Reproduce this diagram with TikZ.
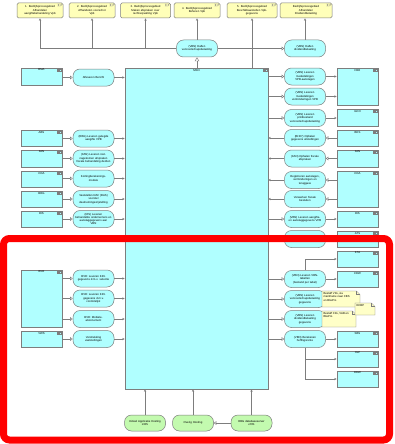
\documentclass[tikz,border=0pt]{standalone}
\usepackage{fontspec}
\setmainfont{Liberation Sans}
\usetikzlibrary{arrows.meta,positioning}
\definecolor{cy}{RGB}{176,255,255}
\definecolor{yl}{RGB}{255,255,185}
\definecolor{gr}{RGB}{195,250,175}
\definecolor{ln}{RGB}{125,125,125}
\definecolor{nt}{RGB}{255,255,200}
\tikzset{
  base/.style={draw=ln, line width=0.5pt, inner sep=0.5pt, font=\fontsize{2.8}{3.3}\selectfont, align=center},
  proc/.style={base, fill=yl, rounded corners=1.5pt, minimum height=15pt, text width=40pt},
  svc/.style={base, fill=cy, rounded corners=7pt, minimum width=41pt, minimum height=17pt, text width=37pt},
  infra/.style={base, fill=gr, rounded corners=7pt, minimum width=41pt, minimum height=16pt, text width=37pt},
  comp/.style={base, fill=cy, minimum width=41pt},
  lbl/.style={font=\fontsize{2.8}{3.3}\selectfont, inner sep=0.5pt},
  flow/.style={draw=ln, line width=0.45pt, -{Stealth[length=2.5pt,width=2.2pt]}},
  use/.style={draw=ln, line width=0.45pt, -{Triangle[open,length=2.6pt,width=3.6pt]}},
  real/.style={draw=ln, line width=0.45pt, -{Triangle[open,length=4pt,width=4.5pt]}},
  cicon/.pic={\draw[ln, line width=0.25pt, fill=cy] (-4,1) rectangle (-1,3.6);
              \draw[ln, line width=0.25pt, fill=cy] (-4.7,1.5) rectangle (-3.3,2.1) (-4.7,2.5) rectangle (-3.3,3.1);},
  picon/.pic={\draw[ln, line width=0.25pt, fill=yl] (-5.5,1.2) -- (-2.8,1.2) -- (-1.6,2.2) -- (-2.8,3.2) -- (-5.5,3.2) -- (-4.5,2.2) -- cycle;}
}
\newcommand\mycomp[5]{%
  \node[comp, minimum height=#4pt] (#1) at (#2,#3) {};
  \node[lbl, below=0.6pt] (#1-t) at (#1.north) {#5};
  \pic at (#1.north east) {cicon};}
\newcommand\myproc[5]{%
  \node[proc, minimum width=#4pt] (#1) at (#2,#3) {#5};
  \pic at (#1.north east) {picon};}
\newcommand\mynote[6]{%
  \draw[ln, line width=0.3pt, fill=nt] (#2,#3) -- (#4-3.5,#3) -- (#4,#3+3.5) -- (#4,#5) -- (#2,#5) -- cycle;
  \draw[ln, line width=0.3pt] (#4-3.5,#3) -- (#4-3.5,#3+3.5) -- (#4,#3+3.5);
  \node[lbl, anchor=north west, align=left] (#1) at (#2+0.8,#3+0.8) {#6};}
\begin{document}
\begin{tikzpicture}[x=1pt, y=-1pt]
\useasboundingbox (0,0) rectangle (395,444);
\fill[white] (0,0) rectangle (395,444);
% top process areas
\myproc{b1}{40}{10.5}{46}{1. Bedrijfsprocesgebied\\Afhandelen\\aangiftebehandeling Vpb}
\myproc{b2}{92}{10.5}{46}{2. Bedrijfsprocesgebied\\Afhandelen voorschot\\Vpb}
\myproc{b3}{145.5}{10.5}{50}{3. Bedrijfsprocesgebied\\Maken afspraken over\\rechtsopvatting Vpb}
\myproc{b4}{197}{10.5}{46}{4. Bedrijfsprocesgebied\\Beheren Vpb}
\myproc{b5}{252}{10.5}{50}{5. Bedrijfsprocesgebied\\Beschikbaarstellen Vpb-\\gegevens}
\myproc{b6}{306}{10.5}{52}{Bedrijfsprocesgebied\\Afhandelen\\Dividendbelasting}
% top services
\node[svc] (ven) at (197,48.5) {(VBN) Halfen\\vennootschapsbelasting};
\node[svc] (div) at (305,48.5) {(VBN) Halfen\\dividendbelasting};
% MSN
\node[base, fill=cy, minimum width=143pt, minimum height=321pt] (msn) at (196.5,228.5) {};
\node[lbl, below=0.8pt] (msn-t) at (msn.north) {MSN};
\pic at (msn.north east) {cicon};
% left components
\mycomp{BMA}{41.5}{76.5}{17}{BMA}
\mycomp{ABS}{41.5}{138}{16}{ABS}
\mycomp{FANl}{41.5}{158.5}{17}{FAN}
\mycomp{COAl}{41.5}{179}{16}{COA}
\mycomp{BRG}{41.5}{199}{16}{BRG}
\mycomp{RISl}{41.5}{219}{16}{RIS}
\mycomp{BVR}{41.5}{298.5}{57}{BVR}
\mycomp{VWS}{41.5}{339}{16}{VWS}
% left services
\node[svc] (s1) at (93.5,77.5) {Afleveren Bericht};
\node[svc] (s2) at (93.5,138.5) {(RBG) Leveren gelegde\\aangifte VPB};
\node[svc] (s3) at (93.5,158.5) {(FAN) Leveren niet-\\nagekomen afspraken\\fiscale behandeling derden};
\node[svc] (s4) at (93.5,178.5) {Kortingberekenings-\\module};
\node[svc] (s5) at (93.5,199) {Vaststellen RAF (BAS)\\voorstel\\deelnemingsvrijstelling};
\node[svc] (s6) at (93.5,219) {(RIS) Leveren\\behandelde ondernemers en\\aanslaggegevens aan\\VBN};
\node[svc] (s7) at (93.5,278.5) {BVR: Leveren KRI-\\gegevens d.m.v. selectie};
\node[svc] (s8) at (93.5,298.5) {BVR: Leveren KRI-\\gegevens d.m.v.\\controlelijst};
\node[svc] (s9) at (93.5,319) {BVR: Mobiele-\\abonnement};
\node[svc] (s10) at (93.5,339) {Verstrekking\\vaststellingen};
% right components
\mycomp{FBO}{357.5}{86.5}{37}{FBO}
\mycomp{GCO}{357.5}{117.5}{17}{GCO}
\mycomp{BHS}{357.5}{138}{16}{BHS}
\mycomp{FANr}{357.5}{158.5}{17}{FAN}
\mycomp{COAr}{357.5}{189}{36}{COA}
\mycomp{RISr}{357.5}{219}{16}{RIS}
\mycomp{ATS}{357.5}{239}{16}{ATS}
\mycomp{KTA}{357.5}{259}{16}{KTA}
\mycomp{CDW}{357.5}{279}{16}{CDW}
\mycomp{SBS}{357.5}{339}{16}{SBS}
\mycomp{HLP}{357.5}{359}{16}{HLP}
\mycomp{DDW}{357.5}{379}{16}{DDW}
% right services
\node[svc] (r1) at (305,76.5) {(VBN) Leveren\\mededelingen\\VPB-aanslagen};
\node[svc] (r2) at (305,96.5) {(VBN) Leveren\\mededelingen\\verminderingen VPB};
\node[svc] (r3) at (305,118) {(VBN) Leveren\\printbestand\\vennootschapsbelasting};
\node[svc] (r4) at (305,138) {(BH07) Ophalen\\gegevens uitstellingen};
\node[svc] (r5) at (305,158.5) {(FAN) Ophalen fiscale\\afspraken};
\node[svc] (r6) at (305,180) {Registreren aanslagen,\\verminderingen en\\teruggave};
\node[svc] (r7) at (305,199) {Verwerken fiscale\\besluiten};
\node[svc] (r8) at (305,219) {(VBN) Leveren aangifte-\\en aanslaggegevens VPB};
\node[svc] (r9) at (305,239) {(VBN) Leveren VPB-\\gegevens};
\node[svc] (r10) at (305,279) {(VBN) Leveren VBN-\\tabellen\\(bestand per tabel)};
\node[svc] (r11) at (305,299) {(VBN) Leveren\\vennootschapsbelasting\\gegevens};
\node[svc] (r12) at (305,319) {(VBN) Leveren\\dividendbelasting\\gegevens};
\node[svc] (r13) at (305,339) {(VBN) Berekenen\\heffingsrente};
% bottom infrastructure
\node[infra] (g1) at (145,423) {Initieel Applicatie Hosting\\z/OS};
\node[infra] (g2) at (193,423) {Overig Hosting};
\node[infra] (g3) at (251.5,423) {RBG databaseserver\\z/OS};
% top connectors
\draw[flow] (ven.north) -- (ven.north |- b4.south);
\draw[flow] (ven.west) -| (b1.south);
\draw[flow] (ven.west) -| (b2.south);
\draw[flow] (ven.west) -| (b3.south);
\draw[use] (ven.east) -- (div.west);
\draw[flow] (div.north) -- (div.north |- b6.south);
\draw[flow] (msn.north -| b5.south) -- (b5.south);
\draw[real] (msn.north -| ven.south) -- (ven.south);
% left connectors
\foreach \c/\s in {BMA/s1, ABS/s2, FANl/s3, COAl/s4, BRG/s5, RISl/s6, BVR/s7, BVR/s8, BVR/s9, VWS/s10}{
  \draw[use] (\c.east |- \s.west) -- (\s.west);
  \draw[flow] (\s.east) -- (\s.east -| msn.west);
}
% right connectors, MSN to service
\foreach \s in {r1, r2, r3, r8, r9, r10, r11, r12, r13}{
  \draw[use] (msn.east |- \s.west) -- (\s.west);
}
\foreach \s/\c in {r1/FBO, r2/FBO, r3/GCO, r8/RISr, r9/ATS, r10/CDW, r13/SBS}{
  \draw[flow] (\s.east) -- (\s.east -| \c.west);
}
\draw[flow] (r10.north) |- (KTA.west);
\draw[flow] (r13.south) |- (HLP.west);
\draw[flow] (r13.south) |- (DDW.west);
% right connectors, component to service to MSN
\foreach \c/\s in {BHS/r4, FANr/r5, COAr/r6, COAr/r7}{
  \draw[use] (\c.west |- \s.east) -- (\s.east);
  \draw[flow] (\s.west) -- (\s.west -| msn.east);
}
% bottom connectors
\foreach \g in {g1, g2, g3}{
  \draw[flow] (\g.north) -- (\g.north |- msn.south);
}
\draw[use] (g3.west) -- (g2.east);
% notes
\mynote{n1}{322}{291}{360}{307}{Bestaff VIG, via\\mainframe naar CBS\\en BliePro}
\mynote{n2}{322}{311}{356}{327}{Bestaff CIG, VAB en\\BliePro}
\mynote{n3}{355}{303}{375}{315}{ECBP}
% red frame
\draw[red, line width=7pt, rounded corners=6pt] (3.5,238.5) rectangle (389.5,440);
\end{tikzpicture}
\end{document}
